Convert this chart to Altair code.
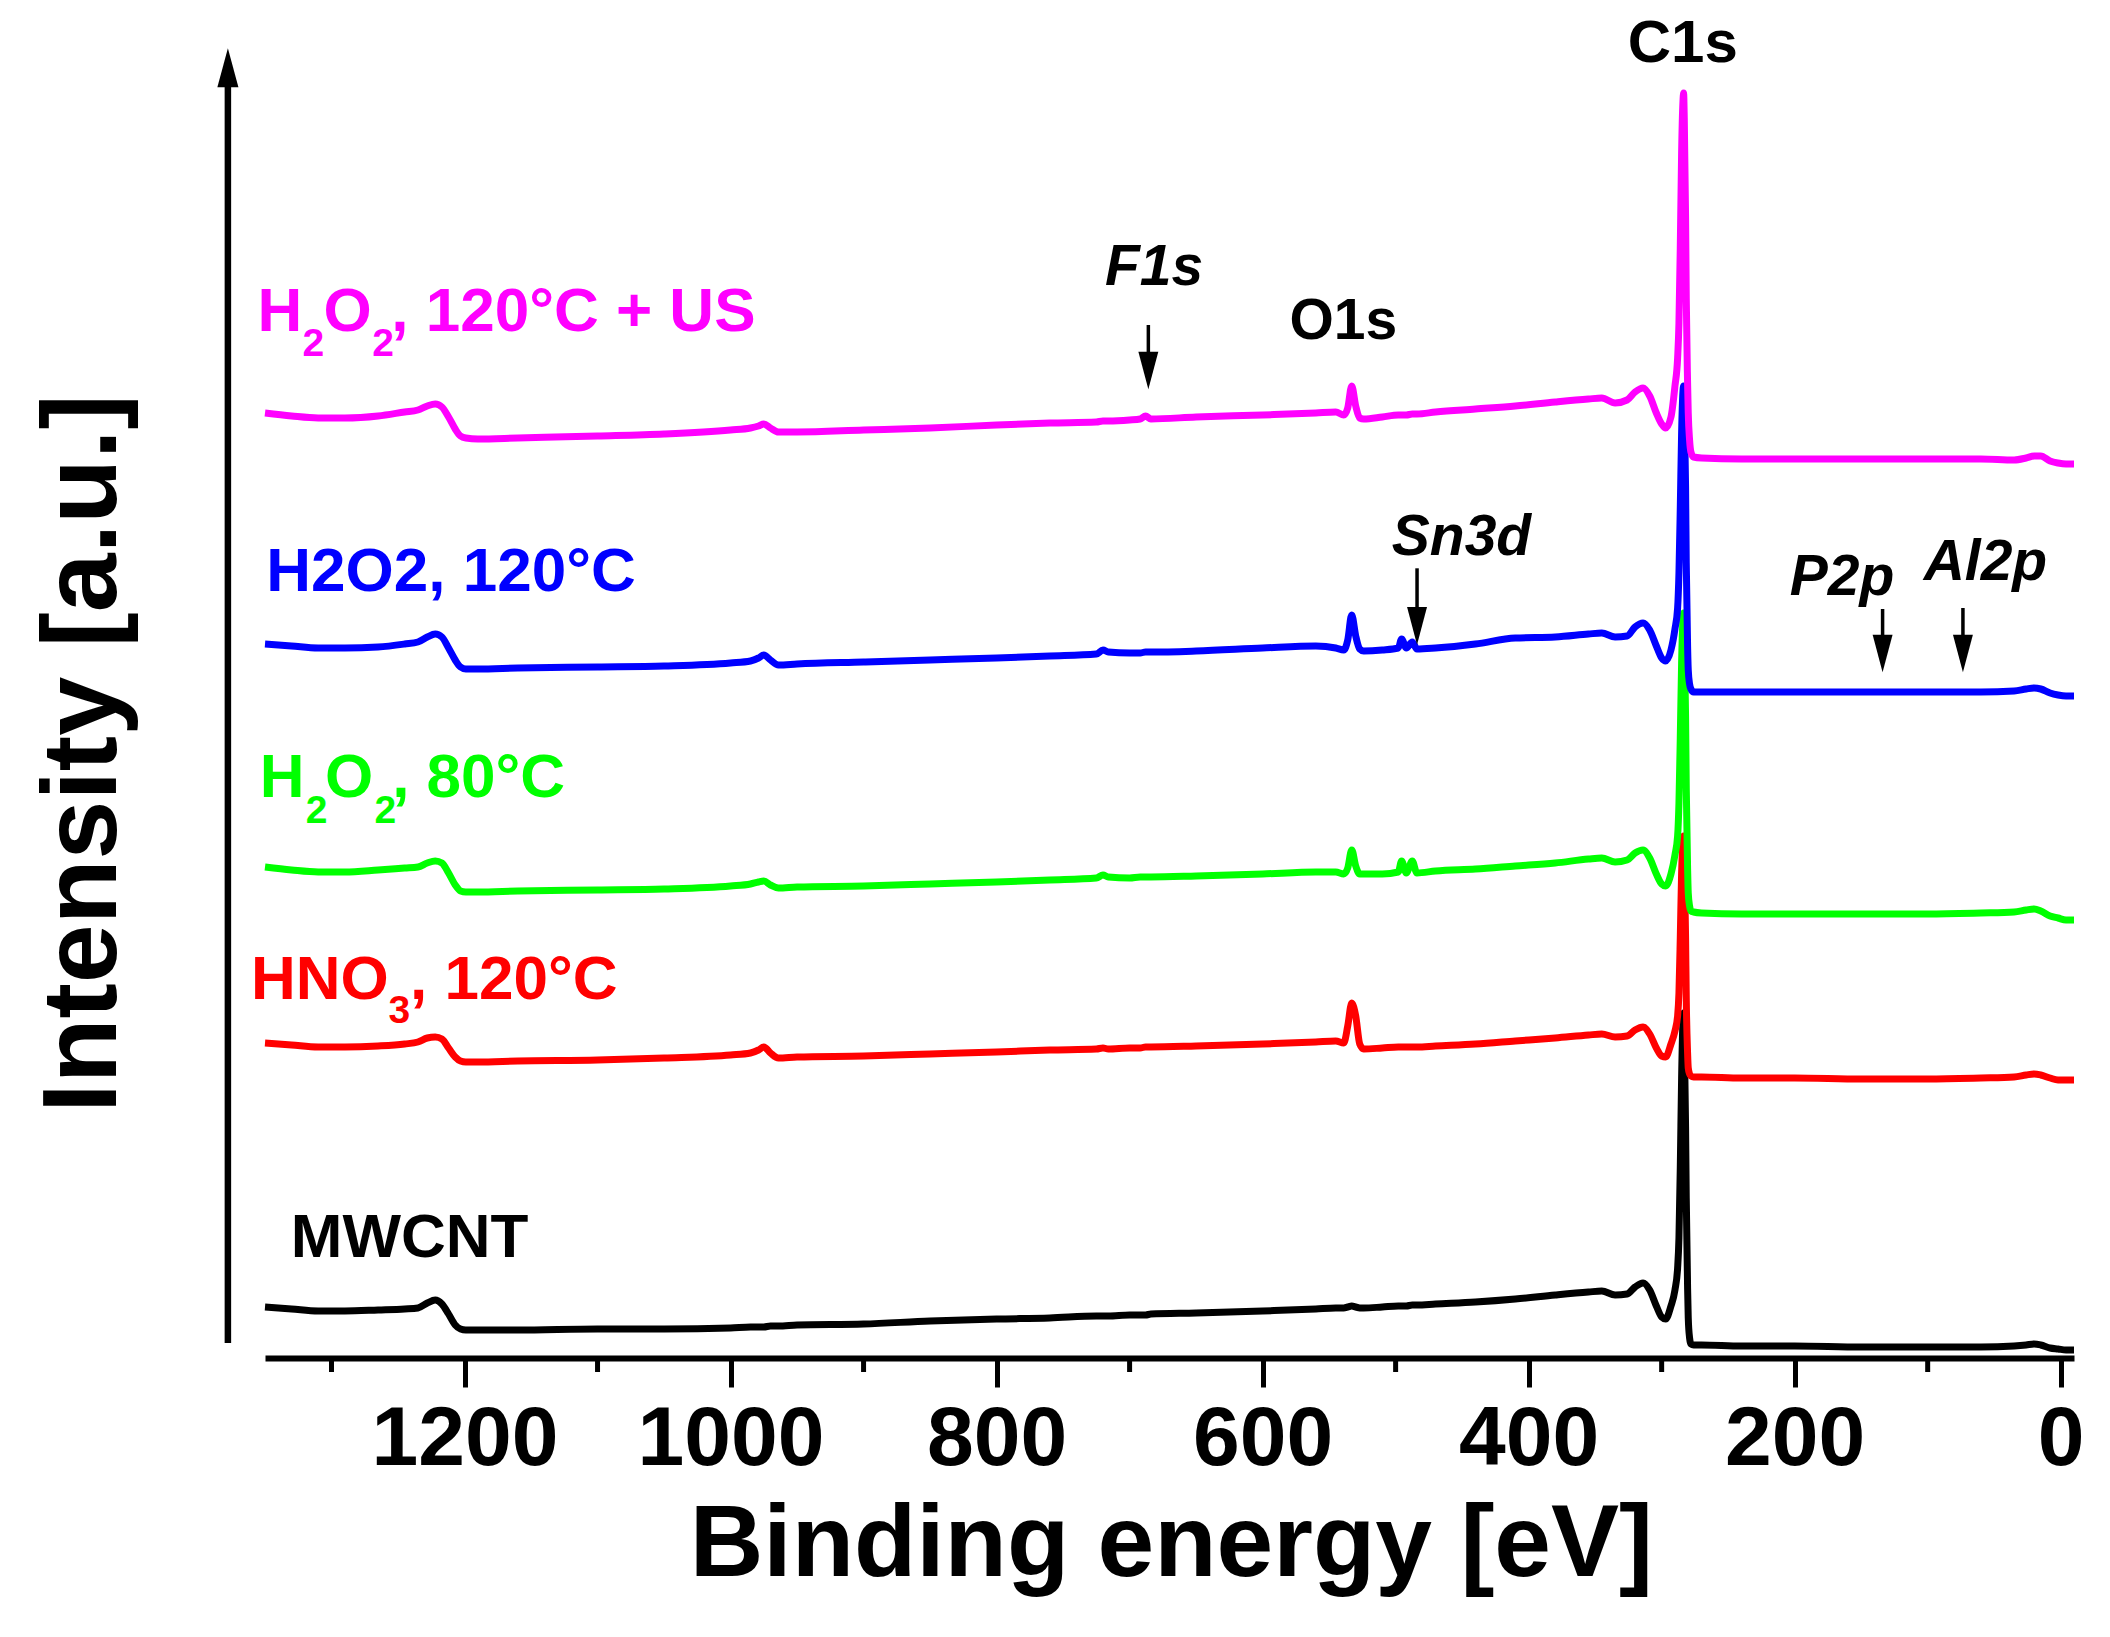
import altair as alt
import pandas as pd

# ---------------- data ----------------
energy = [1350, 1330, 1310, 1290, 1265, 1245, 1235, 1228, 1222, 1217, 1212, 1207, 1203, 1199,
          1190, 1160, 1100, 1050, 1000, 985, 979, 975, 970, 964,
          950, 900, 850, 800, 760, 725, 720, 716, 700, 692, 688, 684, 650, 600, 560, 545, 539, 536,
          533, 530, 527, 524, 510, 498, 495.5, 492, 487.5, 484, 470, 440, 410,
          380, 355, 345, 335, 326, 320, 314, 309, 304, 300, 297, 293,
          290, 288, 287, 286, 285, 284, 283.5, 283, 282, 281.5, 280.5, 280, 279, 278,
          276, 270, 240, 200, 150, 100, 60, 35, 26, 20, 15, 8, 2, -4, -10]

mwcnt = [51, 49, 47, 47, 48, 49, 50, 55, 58, 54, 44, 33, 29, 28,
         28, 28, 29, 29, 30, 31, 31, 31, 32, 32,
         33, 34, 37, 39, 40, 42, 42, 42, 43, 43, 43, 44, 45, 47, 49, 50, 50, 51,
         52, 51, 50, 50, 51, 52, 52, 52, 53, 53, 54, 56, 59,
         63, 66, 67, 63, 64, 71, 75, 68, 52, 41, 39, 52,
         68, 90, 120, 190, 280, 336, 345, 325, 230, 160, 70, 40, 20, 14,
         13, 13, 12, 12, 11, 11, 11, 12, 13, 14, 13, 10, 9, 8, 8]

hno3_120 = [315, 313, 311, 311, 312, 314, 316, 320, 321, 319, 310, 301, 297, 296,
            296, 297, 298, 300, 303, 305, 308, 311, 305, 300,
            301, 302, 304, 306, 308, 309, 310, 309, 310, 310, 311, 311, 312, 314, 316, 317, 315, 332,
            355, 342, 314, 309, 310, 311, 311, 311, 311, 311, 312, 314, 317,
            320, 323, 324, 321, 322, 328, 331, 324, 310, 302, 301, 314,
            327, 342, 365, 420, 485, 516, 522, 500, 420, 360, 305, 290, 284, 282,
            281, 281, 280, 280, 279, 279, 280, 281, 283, 284, 283, 280, 278, 278, 278]

h2o2_80 = [491, 488, 486, 486, 488, 490, 491, 495, 497, 495, 485, 473, 467, 466,
           466, 467, 468, 469, 472, 474, 476, 477, 473, 470,
           471, 472, 474, 476, 478, 480, 483, 481, 480, 481, 481, 481, 482, 484, 486, 486, 484, 490,
           508, 492, 484, 484, 484, 486, 497, 485, 497, 485, 487, 489, 492,
           495, 499, 500, 496, 498, 505, 508, 500, 484, 474, 472, 484,
           503, 522, 555, 620, 695, 738, 745, 725, 640, 570, 490, 465, 452, 447,
           446, 445, 444, 444, 444, 444, 445, 446, 448, 449, 447, 442, 440, 438, 438]

h2o2_120 = [714, 712, 710, 710, 711, 714, 716, 721, 724, 721, 710, 698, 691, 689,
            689, 690, 691, 692, 695, 697, 700, 703, 698, 693,
            694, 696, 698, 700, 702, 704, 708, 706, 705, 705, 706, 706, 707, 710, 712, 710, 708, 718,
            743, 722, 709, 707, 708, 710, 719, 710, 716, 709, 710, 714, 720,
            721, 724, 725, 721, 722, 731, 735, 728, 712, 700, 697, 708,
            729, 750, 785, 850, 925, 966, 972, 955, 870, 795, 712, 688, 674, 669,
            666, 666, 666, 666, 666, 666, 666, 667, 669, 670, 669, 665, 663, 662, 662]

h2o2_120_us = [945, 942, 940, 940, 942, 946, 948, 952, 954, 951, 941, 929, 922, 920,
               919, 920, 922, 924, 928, 930, 932, 934, 930, 926,
               926, 928, 930, 933, 935, 936, 937, 937, 938, 939, 942, 939, 941, 943, 945, 946, 943, 950,
               972, 952, 940, 939, 941, 943, 943, 943, 944, 944, 946, 949, 952,
               956, 959, 960, 955, 958, 966, 970, 962, 945, 934, 930, 941,
               972, 1000, 1035, 1110, 1205, 1256, 1265, 1240, 1140, 1060, 975, 945, 918, 906,
               901, 900, 899, 899, 899, 899, 899, 898, 900, 902, 902, 897, 895, 894, 894]

series_values = [mwcnt, hno3_120, h2o2_80, h2o2_120, h2o2_120_us]
series_colors = ["#000000", "#ff0000", "#00ff00", "#0000ff", "#ff00ff"]

major_ticks = [1200, 1000, 800, 600, 400, 200, 0]
minor_ticks = [1300, 1100, 900, 700, 500, 300, 100]

# series labels (pieces, to get the chemical subscripts)
label_text = ["H", "2", "O", "2", ", 120°C + US",
              "H2O2, 120°C",
              "H", "2", "O", "2", ", 80°C",
              "HNO", "3", ", 120°C",
              "MWCNT"]
label_ev = [1355.6, 1321.9, 1306.1, 1269.4, 1255.1,
            1349.0,
            1354.0, 1319.3, 1304.8, 1267.7, 1254.4,
            1360.6, 1257.1, 1241.0,
            1330.6]
label_int = [1027.3, 1002.3, 1027.3, 1002.3, 1027.3,
             767.3,
             560.7, 535.3, 560.7, 535.3, 560.7,
             359.0, 334.7, 359.0,
             100.7]
label_size = [62, 39, 62, 39, 62,
              62,
              62, 39, 62, 39, 62,
              62, 39, 62,
              62]
label_color = ["#ff00ff"] * 5 + ["#0000ff"] + ["#00ff00"] * 5 + ["#ff0000"] * 3 + ["#000000"]

peak_text = ["C1s", "O1s"]
peak_ev = [284.1, 539.3]
peak_int = [1296.3, 1018.7]
peak_size = [60, 57]

minor_text = ["F1s", "Sn3d", "P2p", "Al2p"]
minor_ev = [681.6, 450.5, 164.4, 56.6]
minor_int = [1073.0, 803.0, 763.3, 777.6]

arrow_ev = [685.9, 483.9, 133.9, 73.5]
arrow_top = [1033.0, 789.7, 749.0, 750.0]
arrow_bottom = [1003.0, 748.0, 718.0, 718.0]
arrow_head = [987.5, 732.1, 704.5, 704.5]

# ---------------- chart ----------------
W, H = 1809, 1318
FONT = "Liberation Sans"

x_scale = alt.Scale(domain=[1350, -10], nice=False, zero=False)
y_scale = alt.Scale(domain=[0, 1318], nice=False, zero=False)
x_axis = alt.Axis(values=major_ticks, format="d", title=None, grid=False,
                  domainWidth=6, domainColor="black",
                  tickSize=29, tickWidth=5, tickColor="black",
                  labelFont=FONT, labelFontSize=84, labelFontWeight="bold",
                  labelColor="black", labelPadding=11, labelFlush=False,
                  labelOverlap=False, labelLimit=0)


def X(field="ev"):
    return alt.X(f"{field}:Q", scale=x_scale, axis=x_axis)


def Y(field="i"):
    return alt.Y(f"{field}:Q", scale=y_scale, axis=None)


layers = []

# minor ticks below the axis line
layers.append(
    alt.Chart(pd.DataFrame({"ev": minor_ticks}))
    .mark_rule(color="black", strokeWidth=5)
    .encode(x=X(), y=alt.value(H), y2=alt.value(H + 14))
)

# spectra
for vals, col in zip(series_values, series_colors):
    df = pd.DataFrame({"ev": energy, "i": vals})
    layers.append(
        alt.Chart(df)
        .mark_line(color=col, strokeWidth=7, interpolate="monotone", strokeJoin="round")
        .encode(x=X(), y=Y())
    )

# y "axis" arrow
layers.append(
    alt.Chart(pd.DataFrame({"ev": [1377.9], "i": [15.0], "i2": [1283.0]}))
    .mark_rule(color="black", strokeWidth=6.5)
    .encode(x=X(), y=Y(), y2="i2:Q")
)
layers.append(
    alt.Chart(pd.DataFrame({"ev": [1377.9], "i": [1290.2]}))
    .mark_point(shape="M0,-1L0.54,1L-0.54,1Z", filled=True, size=1521,
                color="black", opacity=1, strokeWidth=0)
    .encode(x=X(), y=Y())
)

# peak arrows
layers.append(
    alt.Chart(pd.DataFrame({"ev": arrow_ev, "i": arrow_top, "i2": arrow_bottom}))
    .mark_rule(color="black", strokeWidth=3.5)
    .encode(x=X(), y=Y(), y2="i2:Q")
)
layers.append(
    alt.Chart(pd.DataFrame({"ev": arrow_ev, "i": arrow_head}))
    .mark_point(shape="M-0.53,-1L0.53,-1L0,1Z", filled=True, size=1414,
                color="black", opacity=1, strokeWidth=0)
    .encode(x=X(), y=Y())
)

# series labels
lab_df = pd.DataFrame({"text": label_text, "ev": label_ev, "i": label_int,
                       "size": label_size, "color": label_color})
layers.append(
    alt.Chart(lab_df)
    .mark_text(align="left", baseline="alphabetic", font=FONT, fontWeight="bold")
    .encode(x=X(), y=Y(), text="text:N",
            size=alt.Size("size:Q", scale=None, legend=None),
            color=alt.Color("color:N", scale=None, legend=None))
)

# C1s / O1s
layers.append(
    alt.Chart(pd.DataFrame({"text": peak_text, "ev": peak_ev, "i": peak_int, "size": peak_size}))
    .mark_text(align="center", baseline="alphabetic", font=FONT, fontWeight="bold", color="black")
    .encode(x=X(), y=Y(), text="text:N", size=alt.Size("size:Q", scale=None, legend=None))
)

# italic element labels
layers.append(
    alt.Chart(pd.DataFrame({"text": minor_text, "ev": minor_ev, "i": minor_int}))
    .mark_text(align="center", baseline="alphabetic", font=FONT, fontWeight="bold",
               fontStyle="italic", fontSize=57, color="black")
    .encode(x=X(), y=Y(), text="text:N")
)

# axis titles
layers.append(
    alt.Chart(pd.DataFrame({"text": ["Binding energy [eV]"], "ev": [668.6], "i": [-218.0]}))
    .mark_text(align="center", baseline="alphabetic", font=FONT, fontWeight="bold",
               fontSize=102, color="black")
    .encode(x=X(), y=Y(), text="text:N")
)
layers.append(
    alt.Chart(pd.DataFrame({"text": ["Intensity [a.u.]"], "ev": [1462.1], "i": [604.5]}))
    .mark_text(align="center", baseline="alphabetic", font=FONT, fontWeight="bold",
               fontSize=106, angle=270, color="black")
    .encode(x=X(), y=Y(), text="text:N")
)

chart = (
    alt.layer(*layers)
    .properties(width=W, height=H,
                padding={"left": 257, "top": 32, "right": 28, "bottom": 271},
                autosize=alt.AutoSizeParams(type="none"),
                background="white")
    .configure_view(stroke=None)
)

chart.save("out.html", embed_options={"renderer": "svg", "actions": False})
